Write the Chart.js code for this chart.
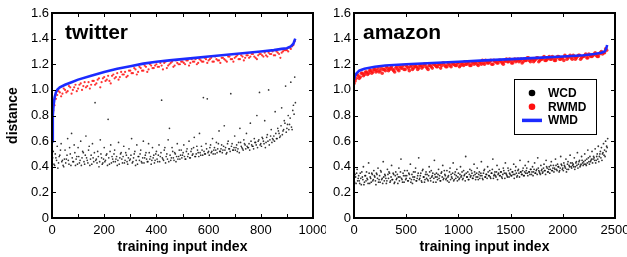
<!DOCTYPE html>
<html>
<head>
<meta charset="utf-8">
<script src="https://cdn.jsdelivr.net/npm/chart.js@4.4.0/dist/chart.umd.min.js"></script>
<style>
  body { margin: 0; background: #fff; }
  #wrap { position: relative; width: 627px; height: 257px; }
  #left { position: absolute; left: 0; top: 0; }
  #right { position: absolute; left: 326px; top: 0; }
</style>
</head>
<body>
<div id="wrap">
  <canvas id="left" width="326" height="257"></canvas>
  <canvas id="right" width="301" height="257"></canvas>
</div>
<script>
// ---- twitter panel data ----
// WMD (sorted, drawn as a line)
const twitterWmdX = [0, 3, 6, 10, 15, 20, 30, 50, 75, 100, 150, 200, 250, 300, 350, 400, 450, 500, 550, 600, 650, 700, 750, 800, 850, 880, 900, 915, 925, 932];
const twitterWmdY = [0.60, 0.80, 0.88, 0.94, 0.98, 1.00, 1.02, 1.04, 1.06, 1.08, 1.11, 1.14, 1.165, 1.185, 1.205, 1.22, 1.23, 1.24, 1.25, 1.26, 1.27, 1.28, 1.29, 1.30, 1.31, 1.32, 1.325, 1.34, 1.36, 1.40];
// RWMD, read every 10 inputs (two interleaved passes: x = 0,10,.. and x = 5,15,..)
const twitterRwmdStep = 10;
const twitterRwmdA = [
  0.62, 0.88, 0.96, 0.98, 0.97, 1.00, 0.99, 1.02, 1.00, 1.04,
  1.01, 1.05, 1.03, 1.02, 1.06, 1.04, 1.07, 1.05, 1.09, 1.06,
  1.10, 1.08, 1.07, 1.11, 1.09, 1.13, 1.10, 1.12, 1.14, 1.11,
  1.15, 1.13, 1.16, 1.14, 1.17, 1.15, 1.18, 1.16, 1.19, 1.17,
  1.20, 1.18, 1.19, 1.21, 1.17, 1.20, 1.22, 1.19, 1.21, 1.20,
  1.22, 1.20, 1.23, 1.21, 1.22, 1.24, 1.21, 1.23, 1.22, 1.24,
  1.23, 1.25, 1.22, 1.24, 1.23, 1.25, 1.24, 1.22, 1.26, 1.24,
  1.25, 1.27, 1.24, 1.26, 1.25, 1.27, 1.26, 1.28, 1.25, 1.27,
  1.28, 1.26, 1.27, 1.29, 1.28, 1.27, 1.30, 1.28, 1.29, 1.31,
  1.31, 1.33, 1.34, 1.38
];
const twitterRwmdB = [
  0.84, 0.93, 0.99, 0.95, 1.01, 0.98, 1.03, 0.97, 1.02, 0.99,
  1.04, 1.00, 1.06, 1.03, 1.01, 1.07, 1.04, 1.08, 1.02, 1.09,
  1.07, 1.11, 1.05, 1.12, 1.10, 1.08, 1.14, 1.12, 1.10, 1.15,
  1.13, 1.17, 1.12, 1.18, 1.15, 1.19, 1.14, 1.20, 1.17, 1.19,
  1.18, 1.21, 1.16, 1.22, 1.19, 1.21, 1.18, 1.23, 1.20, 1.22,
  1.21, 1.23, 1.19, 1.24, 1.22, 1.20, 1.24, 1.22, 1.25, 1.21,
  1.24, 1.22, 1.26, 1.23, 1.21, 1.25, 1.23, 1.26, 1.24, 1.22,
  1.26, 1.24, 1.27, 1.23, 1.27, 1.25, 1.28, 1.26, 1.24, 1.28,
  1.27, 1.29, 1.26, 1.28, 1.30, 1.27, 1.29, 1.25, 1.30, 1.31,
  1.30, 1.32, 1.35
];
// WCD, read every 5 inputs (two interleaved passes: x = 0,5,.. and x = 2.5,7.5,..)
const twitterWcdStep = 5;
const twitterWcdA = [
  0.44, 0.52, 0.41, 0.47, 0.56, 0.43, 0.49, 0.58, 0.45, 0.40,
  0.53, 0.46, 0.62, 0.42, 0.50, 0.66, 0.44, 0.57, 0.41, 0.48,
  0.55, 0.43, 0.60, 0.47, 0.51, 0.42, 0.64, 0.45, 0.53, 0.41,
  0.49, 0.58, 0.44, 0.90, 0.46, 0.52, 0.40, 0.61, 0.47, 0.43,
  0.55, 0.45, 0.50, 0.77, 0.42, 0.57, 0.48, 0.44, 0.53, 0.46,
  0.41, 0.59, 0.47, 0.51, 0.43, 0.56, 0.45, 0.49, 0.42, 0.54,
  0.46, 0.62, 0.44, 0.50, 0.41, 0.57, 0.48, 0.45, 0.53, 0.43,
  0.60, 0.47, 0.51, 0.44, 0.58, 0.46, 0.42, 0.55, 0.49, 0.45,
  0.52, 0.44, 0.57, 0.48, 0.92, 0.46, 0.53, 0.43, 0.50, 0.61,
  0.70, 0.45, 0.55, 0.47, 0.51, 0.44, 0.58, 0.48, 0.46, 0.53,
  0.49, 0.57, 0.46, 0.52, 0.48, 0.60, 0.47, 0.54, 0.50, 0.63,
  0.48, 0.56, 0.51, 0.66, 0.49, 0.53, 0.94, 0.50, 0.58, 0.93,
  0.52, 0.55, 0.51, 0.62, 0.53, 0.50, 0.59, 0.54, 0.68, 0.52,
  0.57, 0.53, 0.72, 0.55, 0.51, 0.60, 0.54, 0.97, 0.58, 0.53,
  0.64, 0.55, 0.52, 0.59, 0.70, 0.56, 0.54, 0.61, 0.57, 0.66,
  0.55, 0.58, 0.74, 0.57, 0.56, 0.62, 0.59, 0.80, 0.60, 0.98,
  0.58, 0.63, 0.60, 0.76, 0.59, 0.65, 1.00, 0.61, 0.69, 0.62,
  0.64, 0.83, 0.62, 0.70, 0.66, 0.64, 0.86, 0.68, 0.76, 1.03,
  0.70, 0.80, 0.73, 1.06, 0.69, 0.88, 1.10
];
const twitterWcdB = [
  0.47, 0.42, 0.50, 0.45, 0.39, 0.48, 0.53, 0.44, 0.41, 0.46,
  0.43, 0.49, 0.45, 0.55, 0.41, 0.47, 0.44, 0.51, 0.46, 0.42,
  0.48, 0.45, 0.41, 0.52, 0.44, 0.49, 0.47, 0.43, 0.56, 0.46,
  0.42, 0.47, 0.51, 0.45, 0.43, 0.48, 0.44, 0.50, 0.42, 0.46,
  0.44, 0.49, 0.41, 0.47, 0.52, 0.43, 0.46, 0.50, 0.44, 0.48,
  0.45, 0.42, 0.50, 0.46, 0.48, 0.43, 0.51, 0.44, 0.47, 0.45,
  0.49, 0.43, 0.47, 0.52, 0.45, 0.42, 0.48, 0.50, 0.44, 0.47,
  0.43, 0.49, 0.46, 0.44, 0.51, 0.48, 0.45, 0.47, 0.43, 0.50,
  0.46, 0.49, 0.44, 0.51, 0.47, 0.45, 0.55, 0.48, 0.46, 0.44,
  0.49, 0.47, 0.52, 0.45, 0.50, 0.48, 0.46, 0.53, 0.49, 0.47,
  0.51, 0.48, 0.46, 0.54, 0.50, 0.47, 0.52, 0.49, 0.55, 0.48,
  0.50, 0.53, 0.48, 0.51, 0.56, 0.49, 0.52, 0.50, 0.54, 0.51,
  0.49, 0.57, 0.52, 0.50, 0.55, 0.53, 0.51, 0.58, 0.52, 0.54,
  0.51, 0.56, 0.53, 0.50, 0.58, 0.54, 0.52, 0.56, 0.53, 0.55,
  0.53, 0.57, 0.54, 0.51, 0.59, 0.55, 0.53, 0.58, 0.54, 0.56,
  0.55, 0.53, 0.60, 0.56, 0.54, 0.59, 0.57, 0.55, 0.61, 0.57,
  0.56, 0.62, 0.58, 0.55, 0.63, 0.60, 0.57, 0.64, 0.59, 0.61,
  0.60, 0.66, 0.62, 0.68, 0.63, 0.72, 0.65, 0.69, 0.74, 0.67,
  0.73, 0.69, 0.78, 0.71, 0.84, 0.81, 0.90
];

// ---- amazon panel data ----
const amazonWmdX = [0, 10, 25, 50, 100, 200, 300, 500, 750, 1000, 1250, 1500, 1750, 2000, 2200, 2300, 2370, 2400, 2415, 2425];
const amazonWmdY = [1.08, 1.11, 1.13, 1.15, 1.165, 1.18, 1.19, 1.20, 1.21, 1.22, 1.23, 1.24, 1.25, 1.26, 1.27, 1.28, 1.29, 1.30, 1.32, 1.35];
// RWMD, read every 20 inputs (x = 0,20,.. and x = 10,30,..)
const amazonRwmdStep = 20;
const amazonRwmdA = [
  1.05, 1.09, 1.11, 1.10, 1.13, 1.12, 1.14, 1.13, 1.15, 1.14,
  1.16, 1.15, 1.14, 1.17, 1.16, 1.15, 1.17, 1.16, 1.18, 1.15,
  1.17, 1.16, 1.18, 1.17, 1.16, 1.19, 1.17, 1.18, 1.16, 1.19,
  1.18, 1.17, 1.19, 1.18, 1.20, 1.17, 1.19, 1.18, 1.20, 1.19,
  1.18, 1.20, 1.19, 1.21, 1.18, 1.20, 1.19, 1.21, 1.20, 1.19,
  1.21, 1.19, 1.20, 1.22, 1.20, 1.21, 1.19, 1.22, 1.21, 1.20,
  1.22, 1.20, 1.21, 1.23, 1.21, 1.22, 1.20, 1.23, 1.22, 1.21,
  1.23, 1.21, 1.22, 1.24, 1.22, 1.23, 1.21, 1.24, 1.23, 1.22,
  1.24, 1.22, 1.23, 1.25, 1.23, 1.24, 1.22, 1.24, 1.25, 1.23,
  1.24, 1.26, 1.23, 1.25, 1.24, 1.26, 1.23, 1.25, 1.26, 1.24,
  1.25, 1.27, 1.24, 1.26, 1.25, 1.27, 1.24, 1.26, 1.27, 1.25,
  1.26, 1.28, 1.25, 1.27, 1.26, 1.28, 1.27, 1.26, 1.29, 1.28,
  1.29, 1.31
];
const amazonRwmdB = [
  1.07, 1.12, 1.09, 1.13, 1.11, 1.14, 1.12, 1.15, 1.13, 1.16,
  1.14, 1.17, 1.15, 1.13, 1.16, 1.18, 1.15, 1.17, 1.16, 1.14,
  1.18, 1.15, 1.17, 1.19, 1.16, 1.18, 1.15, 1.19, 1.17, 1.18,
  1.16, 1.19, 1.17, 1.20, 1.18, 1.16, 1.19, 1.17, 1.20, 1.18,
  1.20, 1.17, 1.21, 1.19, 1.18, 1.21, 1.18, 1.20, 1.19, 1.21,
  1.18, 1.21, 1.19, 1.20, 1.22, 1.19, 1.21, 1.20, 1.22, 1.19,
  1.21, 1.23, 1.20, 1.22, 1.21, 1.23, 1.20, 1.22, 1.21, 1.23,
  1.22, 1.20, 1.23, 1.22, 1.24, 1.21, 1.23, 1.22, 1.24, 1.23,
  1.21, 1.24, 1.23, 1.25, 1.22, 1.24, 1.23, 1.25, 1.22, 1.24,
  1.25, 1.23, 1.24, 1.26, 1.24, 1.25, 1.23, 1.26, 1.24, 1.25,
  1.23, 1.26, 1.25, 1.27, 1.24, 1.26, 1.25, 1.27, 1.24, 1.26,
  1.27, 1.25, 1.28, 1.26, 1.27, 1.29, 1.26, 1.28, 1.30, 1.29,
  1.32
];
// WCD, read every 10 inputs (x = 0,10,.. and x = 5,15,..)
const amazonWcdStep = 10;
const amazonWcdA = [
  0.30, 0.34, 0.27, 0.38, 0.31, 0.29, 0.35, 0.26, 0.32, 0.40,
  0.28, 0.33, 0.36, 0.30, 0.43, 0.27, 0.31, 0.35, 0.29, 0.37,
  0.32, 0.26, 0.34, 0.39, 0.30, 0.28, 0.36, 0.31, 0.44, 0.29,
  0.33, 0.27, 0.38, 0.31, 0.35, 0.29, 0.41, 0.30, 0.34, 0.28,
  0.36, 0.31, 0.27, 0.39, 0.32, 0.46, 0.30, 0.35, 0.28, 0.33,
  0.31, 0.37, 0.29, 0.34, 0.42, 0.30, 0.27, 0.36, 0.32, 0.39,
  0.29, 0.33, 0.47, 0.31, 0.35, 0.28, 0.38, 0.32, 0.30, 0.36,
  0.34, 0.29, 0.40, 0.31, 0.37, 0.33, 0.28, 0.45, 0.32, 0.35,
  0.30, 0.38, 0.33, 0.29, 0.36, 0.41, 0.31, 0.34, 0.30, 0.37,
  0.32, 0.28, 0.39, 0.34, 0.31, 0.43, 0.30, 0.36, 0.33, 0.29,
  0.35, 0.31, 0.40, 0.33, 0.30, 0.37, 0.34, 0.48, 0.32, 0.36,
  0.30, 0.38, 0.33, 0.35, 0.31, 0.42, 0.34, 0.32, 0.39, 0.30,
  0.36, 0.33, 0.44, 0.31, 0.35, 0.38, 0.32, 0.34, 0.40, 0.33,
  0.37, 0.31, 0.35, 0.46, 0.33, 0.36, 0.32, 0.41, 0.34, 0.38,
  0.33, 0.36, 0.31, 0.39, 0.35, 0.43, 0.34, 0.32, 0.37, 0.35,
  0.38, 0.33, 0.36, 0.42, 0.34, 0.40, 0.32, 0.37, 0.35, 0.45,
  0.36, 0.34, 0.39, 0.33, 0.41, 0.37, 0.35, 0.44, 0.36, 0.38,
  0.34, 0.40, 0.36, 0.43, 0.35, 0.38, 0.47, 0.37, 0.35, 0.41,
  0.38, 0.36, 0.42, 0.37, 0.45, 0.39, 0.36, 0.40, 0.38, 0.44,
  0.37, 0.41, 0.39, 0.46, 0.38, 0.42, 0.40, 0.37, 0.48, 0.41,
  0.39, 0.43, 0.40, 0.46, 0.38, 0.44, 0.41, 0.49, 0.40, 0.43,
  0.42, 0.47, 0.40, 0.44, 0.51, 0.42, 0.45, 0.41, 0.48, 0.43,
  0.44, 0.50, 0.42, 0.46, 0.53, 0.44, 0.48, 0.45, 0.52, 0.46,
  0.47, 0.54, 0.45, 0.50, 0.56, 0.48, 0.52, 0.55, 0.50, 0.58,
  0.53, 0.60, 0.56, 0.62
];
const amazonWcdB = [
  0.28, 0.32, 0.35, 0.29, 0.33, 0.27, 0.31, 0.36, 0.30, 0.26,
  0.33, 0.29, 0.31, 0.27, 0.35, 0.32, 0.28, 0.34, 0.30, 0.33,
  0.29, 0.35, 0.31, 0.28, 0.33, 0.37, 0.30, 0.27, 0.32, 0.34,
  0.31, 0.29, 0.34, 0.36, 0.28, 0.32, 0.30, 0.35, 0.27, 0.33,
  0.30, 0.34, 0.32, 0.29, 0.36, 0.31, 0.28, 0.33, 0.37, 0.30,
  0.33, 0.29, 0.35, 0.31, 0.28, 0.34, 0.32, 0.30, 0.36, 0.29,
  0.31, 0.35, 0.30, 0.33, 0.29, 0.37, 0.32, 0.28, 0.34, 0.31,
  0.30, 0.33, 0.36, 0.29, 0.32, 0.35, 0.31, 0.34, 0.28, 0.32,
  0.34, 0.31, 0.29, 0.35, 0.32, 0.30, 0.37, 0.33, 0.31, 0.29,
  0.33, 0.36, 0.30, 0.32, 0.35, 0.29, 0.34, 0.31, 0.38, 0.32,
  0.30, 0.34, 0.32, 0.36, 0.31, 0.33, 0.29, 0.35, 0.32, 0.30,
  0.34, 0.32, 0.37, 0.31, 0.33, 0.36, 0.30, 0.35, 0.32, 0.34,
  0.31, 0.35, 0.33, 0.30, 0.37, 0.32, 0.34, 0.31, 0.36, 0.33,
  0.32, 0.35, 0.38, 0.31, 0.34, 0.33, 0.36, 0.30, 0.35, 0.33,
  0.36, 0.32, 0.34, 0.37, 0.31, 0.35, 0.33, 0.39, 0.32, 0.34,
  0.33, 0.36, 0.34, 0.31, 0.37, 0.35, 0.33, 0.38, 0.32, 0.36,
  0.34, 0.37, 0.33, 0.36, 0.35, 0.39, 0.33, 0.36, 0.34, 0.38,
  0.36, 0.33, 0.38, 0.35, 0.37, 0.34, 0.39, 0.36, 0.34, 0.37,
  0.35, 0.39, 0.37, 0.34, 0.40, 0.36, 0.38, 0.35, 0.41, 0.37,
  0.39, 0.36, 0.38, 0.41, 0.37, 0.40, 0.36, 0.39, 0.42, 0.38,
  0.37, 0.41, 0.39, 0.36, 0.42, 0.38, 0.40, 0.43, 0.39, 0.41,
  0.40, 0.38, 0.43, 0.41, 0.39, 0.44, 0.40, 0.42, 0.45, 0.41,
  0.42, 0.45, 0.41, 0.43, 0.47, 0.42, 0.44, 0.46, 0.43, 0.48,
  0.45, 0.43, 0.48, 0.46, 0.44, 0.50, 0.47, 0.45, 0.51, 0.49,
  0.48, 0.52, 0.55
];

const yTicks = [0, 0.2, 0.4, 0.6, 0.8, 1.0, 1.2, 1.4, 1.6];

const BLUE = '#1c2bff';
const RED = '#ff1010';
const FONT = "'Liberation Sans', Arial, Helvetica, sans-serif";
Chart.defaults.font.family = FONT;
Chart.defaults.color = '#000';

function sampled(values, step, offset) {
  return values.map((v, i) => ({ x: offset + i * step, y: v }));
}
function paired(xs, ys) {
  return xs.map((x, i) => ({ x: x, y: ys[i] }));
}

// frame, inward ticks, panel name and legend
const matlabBox = {
  id: 'matlabBox',
  afterDraw(chart, args, opts) {
    const ctx = chart.ctx;
    const a = chart.chartArea;
    const xs = chart.scales.x, ys = chart.scales.y;
    ctx.save();
    ctx.strokeStyle = '#000';
    ctx.lineWidth = 1;
    ctx.beginPath();
    xs.ticks.forEach(t => {
      const px = Math.round(xs.getPixelForValue(t.value)) + 0.5;
      ctx.moveTo(px, a.bottom); ctx.lineTo(px, a.bottom - 4);
      ctx.moveTo(px, a.top); ctx.lineTo(px, a.top + 4);
    });
    ys.ticks.forEach(t => {
      const py = Math.round(ys.getPixelForValue(t.value)) + 0.5;
      ctx.moveTo(a.left, py); ctx.lineTo(a.left + 4, py);
      ctx.moveTo(a.right, py); ctx.lineTo(a.right - 4, py);
    });
    ctx.stroke();
    ctx.lineWidth = 2;
    ctx.strokeRect(a.left, a.top, a.right - a.left, a.bottom - a.top);

    ctx.fillStyle = '#000';
    ctx.font = 'bold 21px ' + FONT;
    ctx.textBaseline = 'alphabetic';
    ctx.textAlign = 'left';
    ctx.fillText(opts.name, a.left + opts.nameDx, a.top + 26);

    if (opts.legend) {
      const lx = a.left + 160, ly = a.top + 66;
      ctx.fillStyle = '#fff';
      ctx.fillRect(lx, ly, 82, 55);
      ctx.lineWidth = 1;
      ctx.strokeRect(lx + 0.5, ly + 0.5, 82, 55);
      const items = [
        { label: 'WCD', kind: 'dot', color: '#000' },
        { label: 'RWMD', kind: 'dot', color: RED },
        { label: 'WMD', kind: 'line', color: BLUE }
      ];
      ctx.font = 'bold 12px ' + FONT;
      ctx.textBaseline = 'middle';
      items.forEach((it, i) => {
        const cy = ly + 14 + i * 13.7;
        if (it.kind === 'dot') {
          ctx.fillStyle = it.color;
          ctx.beginPath();
          ctx.arc(lx + 18, cy, 3.3, 0, Math.PI * 2);
          ctx.fill();
        } else {
          ctx.strokeStyle = it.color;
          ctx.lineWidth = 3.5;
          ctx.beginPath();
          ctx.moveTo(lx + 8, cy); ctx.lineTo(lx + 28, cy);
          ctx.stroke();
        }
        ctx.fillStyle = '#000';
        ctx.fillText(it.label, lx + 34, cy + 0.5);
      });
    }
    ctx.restore();
  }
};

function makePanel(id, cfg) {
  new Chart(document.getElementById(id), {
    type: 'scatter',
    data: {
      datasets: [
        {
          label: 'WMD',
          data: cfg.wmd,
          showLine: true,
          borderColor: BLUE,
          borderWidth: 2.6,
          pointRadius: 0,
          tension: 0
        },
        {
          label: 'RWMD',
          data: cfg.rwmd,
          backgroundColor: 'rgba(255,16,16,0.85)',
          pointRadius: cfg.rwmdRadius,
          pointBorderWidth: 0
        },
        {
          label: 'WCD',
          data: cfg.wcd,
          backgroundColor: 'rgba(0,0,0,0.8)',
          pointRadius: cfg.wcdRadius,
          pointBorderWidth: 0
        }
      ]
    },
    options: {
      responsive: false,
      animation: false,
      events: [],
      layout: { padding: { left: 0, right: cfg.padRight, top: 13, bottom: 0 } },
      plugins: {
        legend: { display: false },
        tooltip: { enabled: false },
        matlabBox: { name: cfg.name, nameDx: cfg.nameDx, legend: cfg.legend }
      },
      scales: {
        x: {
          type: 'linear',
          min: 0,
          max: cfg.xMax,
          grid: { display: false, drawTicks: false },
          border: { display: false },
          ticks: {
            stepSize: cfg.xStep,
            autoSkip: false,
            maxRotation: 0,
            padding: 5,
            font: { size: 13 },
            callback: v => (v % cfg.xLabelStep === 0 ? String(v) : '')
          },
          title: {
            display: true,
            text: 'training input index',
            font: { size: 14, weight: 'bold' },
            padding: 1
          },
          afterFit: s => { s.height = 39; s.paddingLeft = 0; s.paddingRight = 0; }
        },
        y: {
          type: 'linear',
          min: 0,
          max: 1.6,
          afterBuildTicks: s => { s.ticks = yTicks.map(v => ({ value: v })); },
          grid: { display: false, drawTicks: false },
          border: { display: false },
          ticks: {
            padding: 3,
            font: { size: 13 },
            callback: v => (v === 0 ? '0' : v.toFixed(1))
          },
          title: {
            display: cfg.yTitle,
            text: 'distance',
            font: { size: 14, weight: 'bold' },
            padding: 5
          },
          afterFit: s => { s.width = cfg.yWidth; s.paddingTop = 0; s.paddingBottom = 0; }
        }
      }
    },
    plugins: [matlabBox]
  });
}

makePanel('left', {
  name: 'twitter',
  nameDx: 13,
  legend: false,
  wmd: paired(twitterWmdX, twitterWmdY),
  rwmd: sampled(twitterRwmdA, twitterRwmdStep, 0).concat(sampled(twitterRwmdB, twitterRwmdStep, 5)),
  wcd: sampled(twitterWcdA, twitterWcdStep, 0).concat(sampled(twitterWcdB, twitterWcdStep, 2.5)),
  rwmdRadius: 1.1,
  wcdRadius: 0.85,
  xMax: 1000,
  xStep: 100,
  xLabelStep: 200,
  yTitle: true,
  yWidth: 52,
  padRight: 13
});

makePanel('right', {
  name: 'amazon',
  nameDx: 9,
  legend: true,
  wmd: paired(amazonWmdX, amazonWmdY),
  rwmd: sampled(amazonRwmdA, amazonRwmdStep, 0).concat(sampled(amazonRwmdB, amazonRwmdStep, 10)),
  wcd: sampled(amazonWcdA, amazonWcdStep, 0).concat(sampled(amazonWcdB, amazonWcdStep, 5)),
  rwmdRadius: 1.8,
  wcdRadius: 0.9,
  xMax: 2500,
  xStep: 500,
  xLabelStep: 500,
  yTitle: false,
  yWidth: 28,
  padRight: 12
});
</script>
</body>
</html>
